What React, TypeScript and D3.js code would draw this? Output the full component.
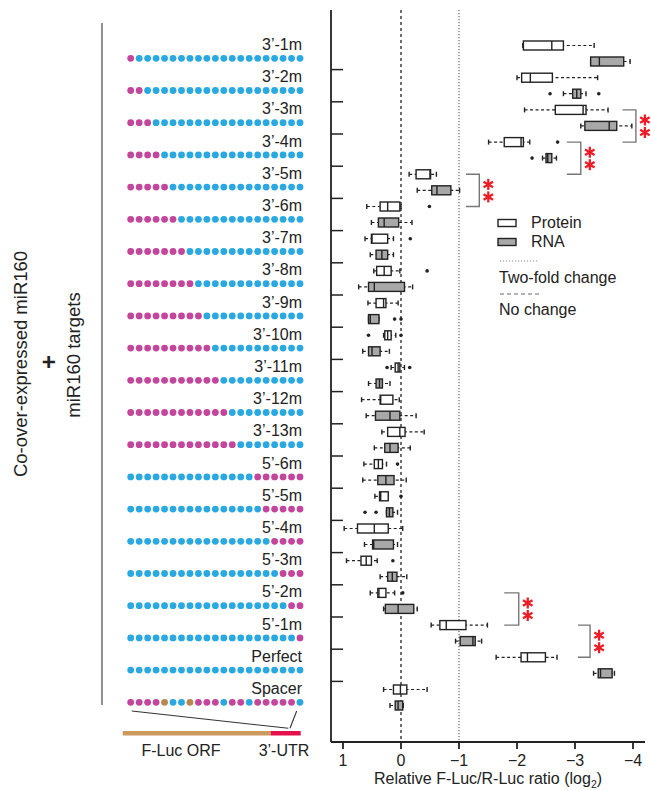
import React from 'react';
import * as d3 from 'd3';

const groups = [
  '3’-1m', '3’-2m', '3’-3m', '3’-4m', '3’-5m', '3’-6m', '3’-7m', '3’-8m', '3’-9m',
  '3’-10m', '3’-11m', '3’-12m', '3’-13m', '5’-6m', '5’-5m', '5’-4m', '5’-3m',
  '5’-2m', '5’-1m', 'Perfect', 'Spacer',
];

// M = mismatch, B = paired, S = spacer nt
const targetPatterns = [
  'MBBBBBBBBBBBBBBBBBBBB',
  'MMBBBBBBBBBBBBBBBBBBB',
  'MMMBBBBBBBBBBBBBBBBBB',
  'MMMMBBBBBBBBBBBBBBBBB',
  'MMMMMBBBBBBBBBBBBBBBB',
  'MMMMMMBBBBBBBBBBBBBBB',
  'MMMMMMMBBBBBBBBBBBBBB',
  'MMMMMMMMBBBBBBBBBBBBB',
  'MMMMMMMMMBBBBBBBBBBBB',
  'MMMMMMMMMMBBBBBBBBBBB',
  'MMMMMMMMMMMBBBBBBBBBB',
  'MMMMMMMMMMMMBBBBBBBBB',
  'MMMMMMMMMMMMMBBBBBBBB',
  'BBBBBBBBBBBBBBBMMMMMM',
  'BBBBBBBBBBBBBBBBMMMMM',
  'BBBBBBBBBBBBBBBBBMMMM',
  'BBBBBBBBBBBBBBBBBBMMM',
  'BBBBBBBBBBBBBBBBBBBMM',
  'BBBBBBBBBBBBBBBBBBBBM',
  'BBBBBBBBBBBBBBBBBBBBB',
  'MMMMSBBSMMMBMMBMMMMMB',
];

// [whisker, q1, median, q3, whisker] in log2 ratio
const proteinStats = [
  [-2.10, -2.11, -2.60, -2.80, -3.33],
  [-2.00, -2.08, -2.23, -2.61, -3.39],
  [-2.13, -2.66, -3.14, -3.19, -3.57],
  [-1.51, -1.78, -2.07, -2.11, -2.22],
  [-0.14, -0.26, -0.50, -0.51, -0.61],
  [0.59, 0.36, 0.23, 0.02, 0.0],
  [0.62, 0.51, 0.50, 0.23, 0.13],
  [0.47, 0.42, 0.29, 0.17, 0.02],
  [0.57, 0.43, 0.30, 0.26, 0.05],
  [0.30, 0.28, 0.23, 0.17, 0.09],
  [0.17, 0.10, 0.05, 0.02, -0.06],
  [0.68, 0.36, 0.35, 0.14, 0.03],
  [0.33, 0.23, 0.02, -0.07, -0.40],
  [0.64, 0.46, 0.39, 0.32, 0.25],
  [0.45, 0.37, 0.35, 0.22, 0.22],
  [0.98, 0.75, 0.46, 0.22, -0.03],
  [0.94, 0.69, 0.60, 0.51, 0.41],
  [0.53, 0.40, 0.38, 0.26, 0.11],
  [-0.52, -0.67, -0.78, -1.12, -1.49],
  [-1.64, -2.07, -2.18, -2.49, -2.69],
  [0.30, 0.13, 0.01, -0.10, -0.45],
];
const proteinOutliers = [
  [], [], [], [-2.70], [], [-0.49], [-0.16], [-0.45], [], [0.56, 0.0],
  [0.24, -0.15], [], [], [0.06], [0.0], [], [0.14], [-0.03], [], [], [],
];

const rnaStats = [
  [-3.27, -3.27, -3.42, -3.84, -3.95],
  [-2.80, -2.96, -3.03, -3.10, -3.19],
  [-3.10, -3.17, -3.59, -3.72, -3.98],
  [-2.44, -2.50, -2.53, -2.60, -2.68],
  [-0.28, -0.53, -0.62, -0.86, -1.01],
  [0.51, 0.39, 0.29, 0.04, -0.19],
  [0.53, 0.43, 0.33, 0.23, 0.13],
  [0.73, 0.56, 0.46, -0.06, -0.20],
  [0.56, 0.56, 0.53, 0.38, 0.38],
  [0.66, 0.56, 0.50, 0.36, 0.20],
  [0.56, 0.43, 0.37, 0.32, 0.19],
  [0.60, 0.44, 0.19, 0.02, -0.26],
  [0.46, 0.28, 0.19, 0.05, -0.16],
  [0.66, 0.40, 0.26, 0.12, -0.09],
  [0.25, 0.25, 0.20, 0.14, 0.06],
  [0.63, 0.49, 0.47, 0.13, 0.06],
  [0.36, 0.23, 0.15, 0.07, -0.10],
  [0.30, 0.27, 0.05, -0.22, -0.28],
  [-0.94, -1.02, -1.24, -1.28, -1.39],
  [-3.32, -3.40, -3.44, -3.64, -3.68],
  [0.19, 0.10, 0.05, -0.03, -0.04],
];
const rnaOutliers = [
  [], [-2.57, -3.41], [], [-2.26], [], [], [], [], [0.11, 0.0], [],
  [], [], [], [], [0.62, 0.43], [], [], [], [], [], [],
];

const xTicks = [1, 0, -1, -2, -3, -4];

// significance brackets: group index pair + bracket x (log2 units)
const brackets = [
  { from: 2, to: 3, at: -4.05, end: -3.82 },
  { from: 3, to: 4, at: -3.10, end: -2.86 },
  { from: 4, to: 5, at: -1.35, end: -1.12 },
  { from: 17, to: 18, at: -2.03, end: -1.78 },
  { from: 18, to: 19, at: -3.26, end: -3.05 },
];

const FONT = "'Liberation Sans', Arial, Helvetica, sans-serif";
const INK = '#222';
const dotColor: Record<string, string> = { M: '#c4459c', B: '#2aa8e2', S: '#b8874e' };

function Box({ stats, outliers, y, x, fill }) {
  const h = 9;
  const lo = d3.max([stats[0], stats[4]]);
  const hi = d3.min([stats[0], stats[4]]);
  return (
    <g>
      <line x1={x(lo)} x2={x(hi)} y1={y} y2={y} stroke={INK} strokeWidth={1.2} strokeDasharray="3,2.5" />
      {[stats[0], stats[4]].map((w, i) => (
        <line key={i} x1={x(w)} x2={x(w)} y1={y - 2.5} y2={y + 2.5} stroke={INK} strokeWidth={1.4} />
      ))}
      <rect x={Math.min(x(stats[1]), x(stats[3]))} y={y - h / 2}
        width={Math.abs(x(stats[3]) - x(stats[1]))} height={h}
        fill={fill} stroke={INK} strokeWidth={1.4} />
      <line x1={x(stats[2])} x2={x(stats[2])} y1={y - h / 2} y2={y + h / 2} stroke={INK} strokeWidth={1.4} />
      {outliers.map((o, i) => (
        <circle key={'o' + i} cx={x(o)} cy={y} r={1.8} fill={INK} />
      ))}
    </g>
  );
}

function Stars({ cx, cy }) {
  const r = 5.5;
  return (
    <g stroke="#ee1c25" strokeWidth={2.3} strokeLinecap="butt">
      {[90, 30, 150].map((a) => {
        const t = (a * Math.PI) / 180;
        return (
          <line key={a} x1={cx - r * Math.cos(t)} y1={cy - r * Math.sin(t)}
            x2={cx + r * Math.cos(t)} y2={cy + r * Math.sin(t)} />
        );
      })}
    </g>
  );
}

export default function App() {
  const width = 651;
  const height = 790;
  const axisX = 331;
  const axisTop = 10;
  const axisBottom = 742;

  const x = d3.scaleLinear().domain([1, -4]).range([343, 633]);
  const y = d3.scaleBand().domain(groups).range([37.4, 713.6]);
  const center = (g) => y(g) + y.bandwidth() / 2;
  const dotX = d3.scaleLinear().domain([0, 20]).range([130.7, 300]);
  const fmt = d3.format('d');

  return (
    <svg width={width} height={height} style={{ position: 'fixed', left: 0, top: 0, display: 'block' }} fontFamily={FONT}>
      <rect width={width} height={height} fill="#fff" />

      {/* left schematic */}
      <line x1={102} x2={102} y1={23} y2={705} stroke="#555" strokeWidth={1.3} />
      <text transform="translate(20,364) rotate(-90)" textAnchor="middle" dominantBaseline="central"
        fontSize={18.5} fill={INK}>Co-over-expressed miR160</text>
      <text transform="translate(48,362) rotate(-90)" textAnchor="middle" dominantBaseline="central"
        fontSize={24} fontWeight="bold" fill={INK}>+</text>
      <text transform="translate(73,355) rotate(-90)" textAnchor="middle" dominantBaseline="central"
        fontSize={18.5} fill={INK}>miR160 targets</text>

      {groups.map((g, gi) => (
        <g key={g}>
          <text x={302} y={center(g) - 3.5} textAnchor="end" fontSize={16} fill={INK}>{g}</text>
          {targetPatterns[gi].split('').map((c, i) => (
            <circle key={i} cx={dotX(i)} cy={center(g) + 4.8} r={3.4} fill={dotColor[c]} />
          ))}
        </g>
      ))}

      {/* F-Luc construct */}
      <line x1={131.7} y1={711} x2={288.3} y2={728.3} stroke="#333" strokeWidth={1.1} />
      <line x1={296.7} y1={711} x2={290} y2={728.3} stroke="#333" strokeWidth={1.1} />
      <rect x={122.7} y={731} width={148} height={4.5} fill="#cc9a5f" />
      <rect x={270.7} y={731} width={30} height={4.5} fill="#e5114f" />
      <text x={181} y={756} textAnchor="middle" fontSize={16} fill={INK}>F-Luc ORF</text>
      <text x={284} y={756} textAnchor="middle" fontSize={16} fill={INK}>3’-UTR</text>

      {/* reference lines */}
      <line x1={x(0)} x2={x(0)} y1={axisTop} y2={axisBottom} stroke={INK} strokeWidth={1.3} strokeDasharray="3,3" />
      <line x1={x(-1)} x2={x(-1)} y1={axisTop} y2={axisBottom} stroke="#444" strokeWidth={1} strokeDasharray="1.2,1.8" />

      {/* boxes */}
      {groups.map((g, gi) => (
        <g key={'b' + g}>
          <Box stats={proteinStats[gi]} outliers={proteinOutliers[gi]} y={center(g) - 8} x={x} fill="#fff" />
          <Box stats={rnaStats[gi]} outliers={rnaOutliers[gi]} y={center(g) + 8} x={x} fill="#a8a8a8" />
        </g>
      ))}

      {/* axes */}
      <line x1={axisX} x2={axisX} y1={axisTop} y2={axisBottom} stroke={INK} strokeWidth={1.8} />
      <line x1={axisX} x2={645} y1={axisBottom} y2={axisBottom} stroke={INK} strokeWidth={1.8} />
      {groups.slice(1).map((g) => (
        <line key={'t' + g} x1={axisX} x2={axisX + 12} y1={y(g)} y2={y(g)} stroke={INK} strokeWidth={1.5} />
      ))}
      {xTicks.map((t) => (
        <g key={'x' + t}>
          <line x1={x(t)} x2={x(t)} y1={axisBottom} y2={axisBottom + 7} stroke={INK} strokeWidth={1.8} />
          <text x={x(t)} y={766} textAnchor="middle" fontSize={16} fill={INK}>
            {t < 0 ? '\u2212' + fmt(-t) : fmt(t)}
          </text>
        </g>
      ))}
      <text x={x(-1.5)} y={784} textAnchor="middle" fontSize={16} fill={INK}>
        Relative F-Luc/R-Luc ratio (log<tspan fontSize={10.5} dy={4}>2</tspan><tspan dy={-4}>)</tspan>
      </text>

      {/* significance */}
      {brackets.map((b, i) => {
        const y1 = center(groups[b.from]) - 8;
        const y2 = center(groups[b.to]) - 8;
        const bx = x(b.at);
        return (
          <g key={'s' + i}>
            <path d={`M${x(b.end)},${y1}H${bx}V${y2}H${x(b.end)}`} fill="none" stroke="#777" strokeWidth={1.4} />
            <Stars cx={bx + 9} cy={(y1 + y2) / 2 - 6} />
            <Stars cx={bx + 9} cy={(y1 + y2) / 2 + 6.5} />
          </g>
        );
      })}

      {/* legend */}
      <rect x={498} y={219.5} width={18} height={7} fill="#fff" stroke={INK} strokeWidth={1.4} />
      <text x={531} y={228} fontSize={16} fill={INK}>Protein</text>
      <rect x={498} y={238.5} width={18} height={7} fill="#a8a8a8" stroke={INK} strokeWidth={1.4} />
      <text x={531} y={247} fontSize={16} fill={INK}>RNA</text>
      <line x1={500} x2={539} y1={261} y2={261} stroke="#888" strokeWidth={1} strokeDasharray="1.2,1.8" />
      <text x={499} y={283} fontSize={16} fill={INK}>Two-fold change</text>
      <line x1={500} x2={539} y1={294} y2={294} stroke="#666" strokeWidth={1} strokeDasharray="4,3" />
      <text x={499} y={315} fontSize={16} fill={INK}>No change</text>
    </svg>
  );
}
